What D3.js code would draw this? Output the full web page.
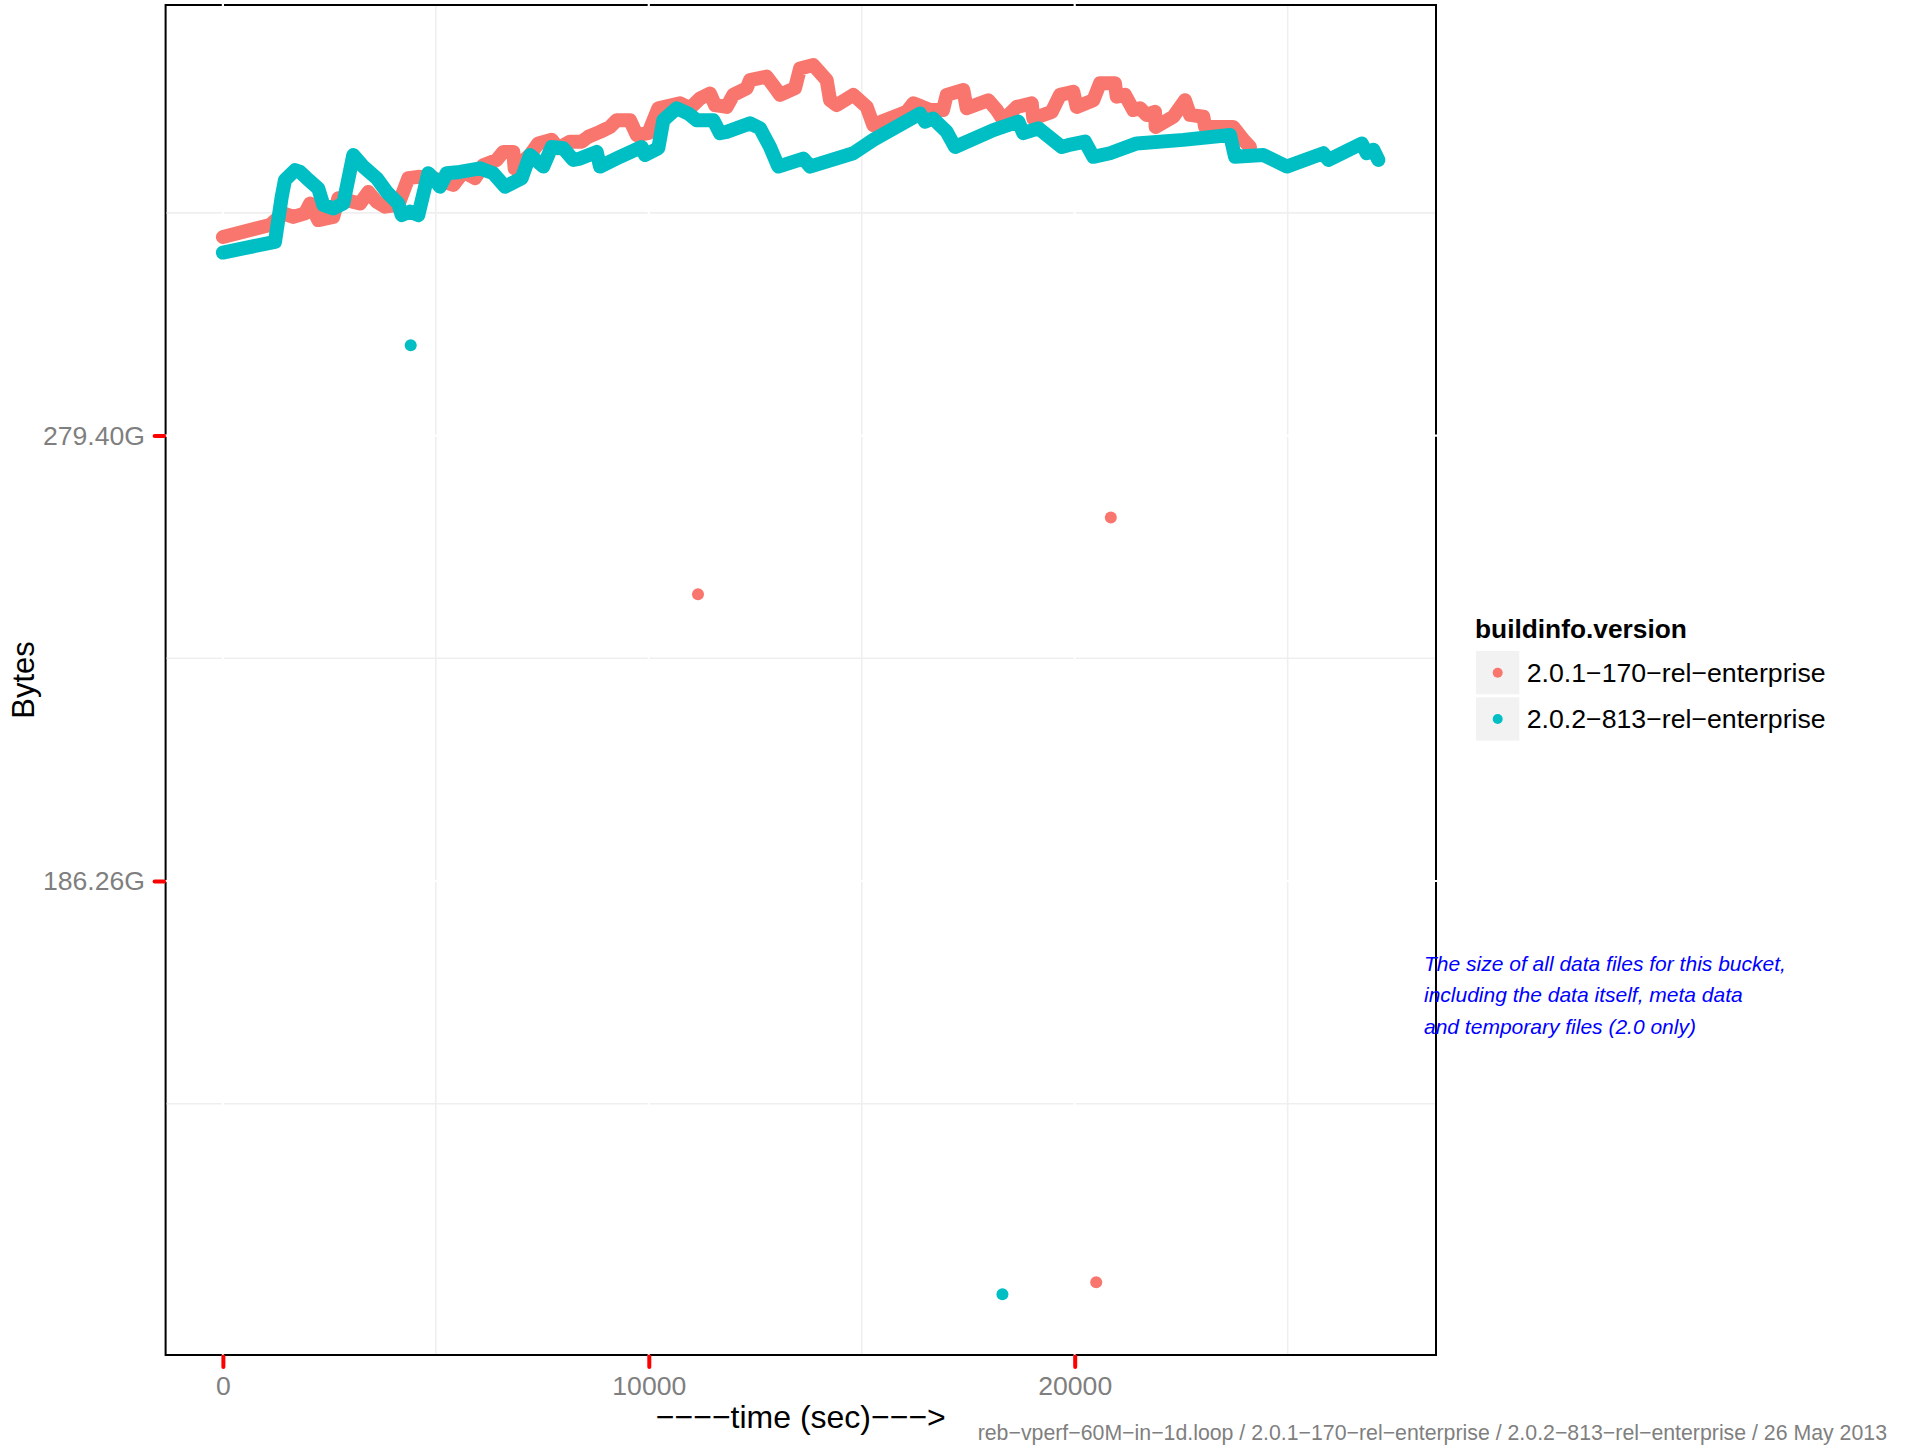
<!DOCTYPE html>
<html>
<head>
<meta charset="utf-8">
<script src="https://cdn.jsdelivr.net/npm/d3@7/dist/d3.min.js"></script>
<style>
  html, body { margin: 0; padding: 0; background: #ffffff; }
  svg { display: block; font-family: "Liberation Sans", Arial, Helvetica, sans-serif; }
</style>
</head>
<body>
<svg id="chart" width="1910" height="1447"></svg>
<script>
// ---- data (time in sec, size in GB = 1e9 bytes) ----
const seriesNames = ["2.0.1\u2212170\u2212rel\u2212enterprise", "2.0.2\u2212813\u2212rel\u2212enterprise"];
const seriesColors = ["#F8766D", "#00BFC4"];

const series201 = [
  [0,344.6],[1106,347.3],[1418,349.9],[1653,349.1],[1928,349.9],[2045,352.1],[2240,348.4],[2592,349.1],
  [2710,353.3],[3219,352.1],[3414,354.7],[3611,352.5],[3806,351.4],[4118,351.8],[4353,357.8],[4588,358.1],
  [4940,357.8],[5410,356.3],[5645,359.2],[5919,357.8],[6114,360.7],[6429,361.9],[6584,363.7],[6819,363.7],
  [6850,360.0],[7211,363.0],[7406,365.6],[7720,366.4],[7875,364.5],[8150,366.0],[8425,366.0],[8580,367.1],
  [8854,368.2],[9089,369.3],[9246,370.8],[9559,370.8],[9716,367.5],[9988,367.9],[10223,373.5],[10733,374.6],
  [10968,373.5],[11202,375.7],[11437,376.8],[11555,374.2],[11829,373.8],[11984,376.5],[12299,378.0],[12376,379.8],
  [12768,380.6],[13003,377.6],[13081,376.5],[13433,378.0],[13550,382.4],[13863,383.2],[14177,379.8],[14255,375.3],
  [14412,374.2],[14802,376.5],[15116,373.8],[15271,369.7],[15546,370.8],[16056,372.7],[16211,374.6],[16603,373.1],
  [16908,373.1],[16995,376.5],[17385,377.6],[17464,373.5],[17972,375.3],[18169,373.1],[18324,370.8],[18638,373.8],
  [18991,374.6],[19028,371.2],[19460,372.7],[19655,376.5],[19967,377.2],[20047,373.8],[20437,375.3],[20594,379.1],
  [20946,379.1],[20986,376.1],[21181,376.5],[21376,373.1],[21534,373.5],[21691,372.0],[21886,372.7],[21900,369.3],
  [22315,371.6],[22590,375.3],[22708,372.0],[23020,371.6],[23060,369.3],[23724,369.3],[23959,366.4],[24116,364.8]
];
const series202 = [
  [0,341.1],[1223,343.5],[1381,353.6],[1458,357.4],[1693,359.6],[1810,359.2],[1968,357.8],[2240,355.5],
  [2357,351.8],[2592,351.0],[2827,352.1],[3062,363.0],[3297,360.4],[3611,357.8],[3846,354.7],[4118,352.1],
  [4198,349.5],[4393,350.3],[4588,349.5],[4823,358.9],[4940,357.8],[5097,355.9],[5255,358.9],[5567,359.2],
  [6037,360.0],[6349,358.9],[6624,355.9],[7016,357.8],[7211,363.0],[7523,360.4],[7720,364.8],[7993,364.5],
  [8227,361.9],[8385,362.2],[8777,363.7],[8854,360.4],[9324,362.6],[9833,364.8],[9911,363.0],[10223,364.5],
  [10341,370.8],[10655,373.5],[10928,372.3],[11125,370.8],[11515,370.8],[11672,367.9],[11829,368.2],[12376,370.1],
  [12611,369.0],[12846,364.8],[13041,360.4],[13628,362.2],[13785,360.4],[14802,363.4],[15271,366.4],[16368,372.3],
  [16485,370.5],[16673,371.2],[16995,368.2],[17190,364.8],[18089,368.6],[18676,370.5],[18793,367.9],[19146,369.0],
  [19695,364.8],[19843,365.2],[20242,366.0],[20437,362.6],[20829,363.4],[21456,365.6],[22550,366.4],[23647,367.5],
  [23764,362.6],[24429,363.0],[24978,360.4],[25837,363.4],[25955,361.9],[26739,365.6],[26856,363.4],[27011,364.2],
  [27129,361.9]
];
const outliers201 = [[11155,264.4],[20848,281.6],[20505,109.9]];
const outliers202 = [[4410,320.3],[18303,107.2]];

const xTicks = [0, 10000, 20000];
const xMinor = [5000, 15000, 25000];
const yTicks = [200, 300];          // GB (1e9 bytes)
const yMinor = [150, 250, 350];
const xTitle = "\u2212\u2212\u2212\u2212time (sec)\u2212\u2212\u2212>";
const yTitle = "Bytes";
const legendTitle = "buildinfo.version";
const noteLines = ["The size of all data files for this bucket,", "including the data itself, meta data", "and temporary files (2.0 only)"];
const footer = "reb\u2212vperf\u221260M\u2212in\u22121d.loop / 2.0.1\u2212170\u2212rel\u2212enterprise / 2.0.2\u2212813\u2212rel\u2212enterprise / 26 May 2013";

// ---- layout ----
const P = { left: 165.6, right: 1436, top: 5, bottom: 1355 };
const svg = d3.select("#chart");
svg.append("rect").attr("width", 1910).attr("height", 1447).attr("fill", "#ffffff");

const x = d3.scaleLinear().domain([-1345, 28483]).range([P.left, P.right]);
const y = d3.scaleLinear().domain([93.58, 396.68]).range([P.bottom, P.top]);
const fmtG = v => (v * 1e9 / Math.pow(2, 30)).toFixed(2) + "G";

// panel background + border
svg.append("rect")
  .attr("x", P.left).attr("y", P.top)
  .attr("width", P.right - P.left).attr("height", P.bottom - P.top)
  .attr("fill", "#ffffff").attr("stroke", "#000000").attr("stroke-width", 2);

const grid = svg.append("g");
// minor grid
grid.selectAll(".vmin").data(xMinor).enter().append("line")
  .attr("x1", d => x(d)).attr("x2", d => x(d)).attr("y1", P.top + 1).attr("y2", P.bottom - 1)
  .attr("stroke", "#efefef").attr("stroke-width", 1.6);
grid.selectAll(".hmin").data(yMinor).enter().append("line")
  .attr("y1", d => y(d)).attr("y2", d => y(d)).attr("x1", P.left + 1).attr("x2", P.right - 1)
  .attr("stroke", "#efefef").attr("stroke-width", 1.6);
// major grid (white)
grid.selectAll(".vmaj").data(xTicks).enter().append("line")
  .attr("x1", d => x(d)).attr("x2", d => x(d)).attr("y1", P.top - 1.2).attr("y2", P.bottom + 1.2)
  .attr("stroke", "#ffffff").attr("stroke-width", 2.2);
grid.selectAll(".hmaj").data(yTicks).enter().append("line")
  .attr("y1", d => y(d)).attr("y2", d => y(d)).attr("x1", P.left - 1.2).attr("x2", P.right + 1.2)
  .attr("stroke", "#ffffff").attr("stroke-width", 2.2);

// data
const line = d3.line().x(d => x(d[0])).y(d => y(d[1]));
const allSeries = [series201, series202];
const allOutliers = [outliers201, outliers202];
allSeries.forEach((s, i) => {
  svg.append("path").datum(s).attr("d", line)
    .attr("fill", "none").attr("stroke", seriesColors[i])
    .attr("stroke-width", 14).attr("stroke-linejoin", "round").attr("stroke-linecap", "round");
});
allOutliers.forEach((s, i) => {
  svg.append("g").selectAll("circle").data(s).enter().append("circle")
    .attr("cx", d => x(d[0])).attr("cy", d => y(d[1])).attr("r", 6)
    .attr("fill", seriesColors[i]);
});

// axes
const yAxis = svg.append("g").attr("transform", `translate(${P.left},0)`)
  .call(d3.axisLeft(y).tickValues(yTicks).tickFormat(fmtG).tickSize(11).tickPadding(9.6));
const xAxis = svg.append("g").attr("transform", `translate(0,${P.bottom})`)
  .call(d3.axisBottom(x).tickValues(xTicks).tickFormat(d3.format("d")).tickSize(12).tickPadding(9.5));
[yAxis, xAxis].forEach(a => {
  a.select(".domain").remove();
  a.selectAll(".tick line").attr("stroke", "#ff0000").attr("stroke-width", 4).attr("stroke-linecap", "round");
  a.selectAll(".tick text").attr("fill", "#7f7f7f").attr("font-size", 26.6)
    .attr("font-family", "'Liberation Sans', Arial, sans-serif");
});
xAxis.selectAll(".tick line").attr("y1", 1.5);
yAxis.selectAll(".tick line").attr("x1", -1.5);

// axis titles
svg.append("text").attr("x", (P.left + P.right) / 2).attr("y", 1427.5)
  .attr("text-anchor", "middle").attr("font-size", 32).attr("fill", "#000")
  .text(xTitle);
svg.append("text").attr("transform", `translate(34,${(P.top + P.bottom) / 2}) rotate(-90)`)
  .attr("text-anchor", "middle").attr("font-size", 31).attr("fill", "#000")
  .text(yTitle);

// legend
const lg = svg.append("g");
lg.append("text").attr("x", 1475).attr("y", 638).attr("font-size", 26.3).attr("font-weight", "bold")
  .attr("fill", "#000").text(legendTitle);
seriesNames.forEach((name, i) => {
  const ky = 651 + i * 46.3;
  lg.append("rect").attr("x", 1476).attr("y", ky).attr("width", 43.3).attr("height", 43.3).attr("fill", "#f2f2f2");
  lg.append("circle").attr("cx", 1497.7).attr("cy", ky + 21.7).attr("r", 5).attr("fill", seriesColors[i]);
  lg.append("text").attr("x", 1526.7).attr("y", ky + 30.8).attr("font-size", 26.7).attr("fill", "#000").text(name);
});

// annotation
svg.append("g").selectAll("text").data(noteLines).enter().append("text")
  .attr("x", 1424).attr("y", (d, i) => 971 + i * 31.3)
  .attr("font-size", 21).attr("font-style", "italic").attr("fill", "#0000ff")
  .text(d => d);

// footer
svg.append("text").attr("x", 1887).attr("y", 1440).attr("text-anchor", "end")
  .attr("font-size", 21.3).attr("fill", "#7f7f7f").text(footer);
</script>
</body>
</html>
